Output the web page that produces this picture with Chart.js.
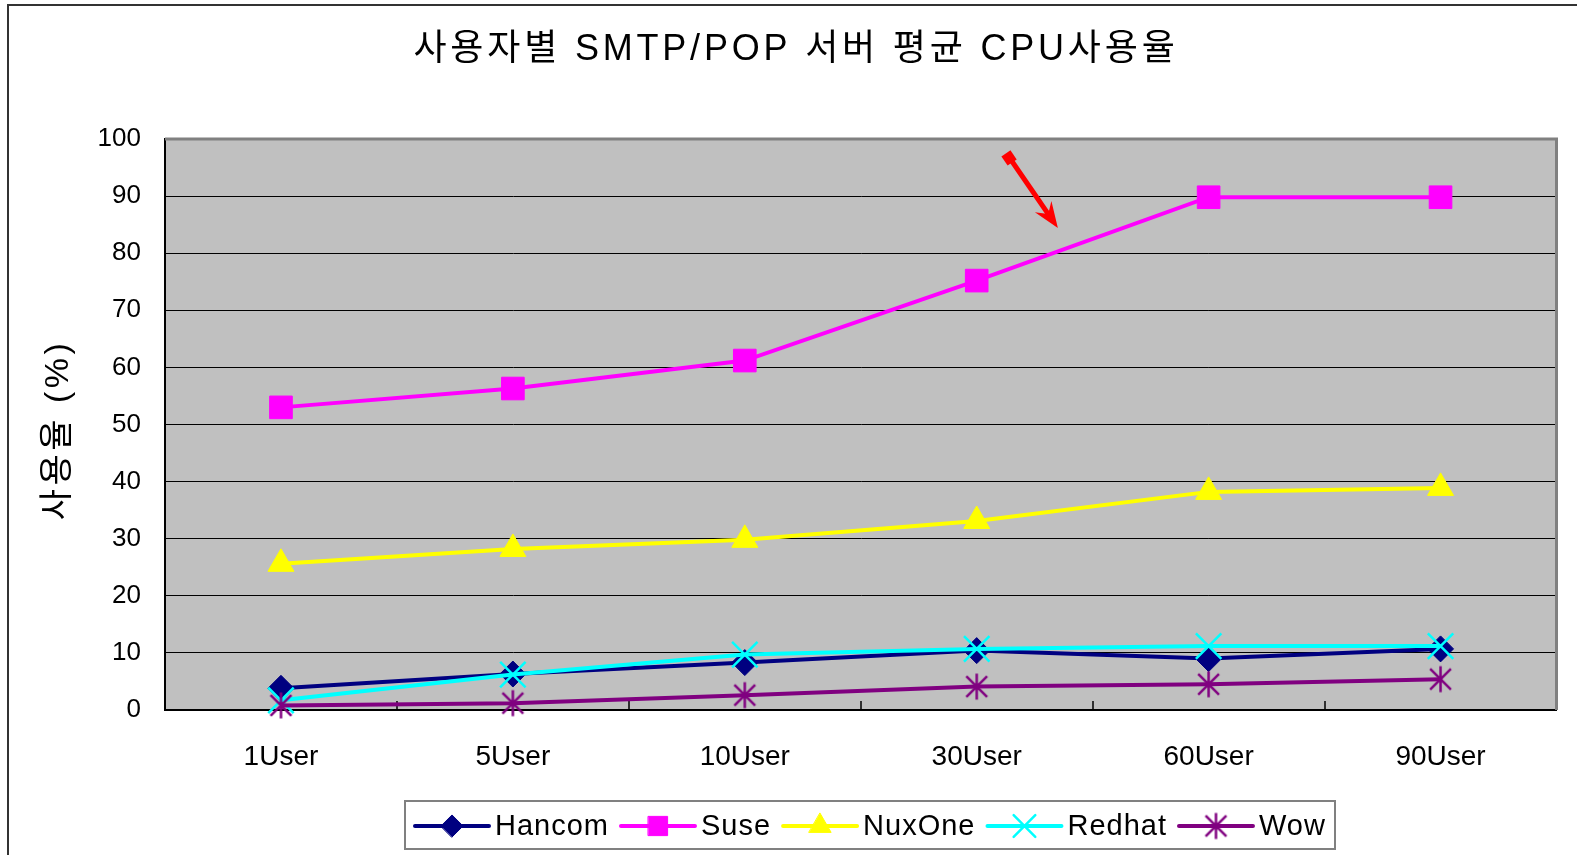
<!DOCTYPE html>
<html>
<head>
<meta charset="utf-8">
<script src="https://cdn.jsdelivr.net/npm/chart.js@4/dist/chart.umd.min.js"></script>
<style>
  html, body { margin: 0; padding: 0; background: #fff; overflow: hidden; }
</style>
</head>
<body>
<canvas id="cpuPorUsuario" width="1577" height="855"></canvas>
<script>
var categorias = ['1User', '5User', '10User', '30User', '60User', '90User'];
var hancom = [3.8, 6.3, 8.3, 10.4, 9.0, 10.7];
var suse = [53.0, 56.3, 61.2, 75.2, 89.8, 89.8];
var nuxone = [25.6, 28.2, 29.8, 33.1, 38.2, 38.9];
var redhat = [1.7, 6.2, 9.7, 10.7, 11.2, 11.2];
var wow = [0.8, 1.2, 2.6, 4.1, 4.5, 5.4];
var ticksY = [0, 10, 20, 30, 40, 50, 60, 70, 80, 90, 100];
var tituloGrafico = '사용자별 SMTP/POP 서버 평균 CPU사용율';
var tituloEixoY = '사용율 (%)';
// seta vermelha: inicio e fim em unidades de dados (indice da categoria, valor)
var setaInicio = [3.14, 96.8];
var setaFim = [3.35, 84.4];

var FONTE = "'Liberation Sans', 'Noto Sans CJK KR', sans-serif";

// asterisco do Wow: haste vertical + X
function marcadorAsterisco(cor, r, lw) {
  var c = document.createElement('canvas');
  var lado = Math.ceil(2 * r + lw + 2);
  c.width = lado;
  c.height = lado;
  var g = c.getContext('2d');
  var m = lado / 2;
  var d = r * 0.8;
  g.strokeStyle = cor;
  g.lineWidth = lw;
  g.beginPath();
  g.moveTo(m, m - r); g.lineTo(m, m + r);
  g.moveTo(m - d, m - d); g.lineTo(m + d, m + d);
  g.moveTo(m + d, m - d); g.lineTo(m - d, m + d);
  g.stroke();
  return c;
}

var series = [
  { label: 'Hancom', data: hancom, cor: '#000080', estilo: 'rectRot', raio: 13, borda: 1 },
  { label: 'Suse', data: suse, cor: '#FF00FF', estilo: 'rect', raio: 16, borda: 1 },
  { label: 'NuxOne', data: nuxone, cor: '#FFFF00', estilo: 'triangle', raio: 15, borda: 1 },
  { label: 'Redhat', data: redhat, cor: '#00FFFF', estilo: 'crossRot', raio: 18, borda: 2.5 },
  { label: 'Wow', data: wow, cor: '#800080', estilo: marcadorAsterisco('#800080', 13, 2.5), raio: 13, borda: 2.5 }
];

function desenharPonto(ctx, s, x, y) {
  ctx.save();
  ctx.fillStyle = s.cor;
  ctx.strokeStyle = s.cor;
  ctx.lineWidth = s.borda;
  Chart.helpers.drawPoint(ctx, { pointStyle: s.estilo, radius: s.raio, rotation: 0, borderWidth: s.borda }, x, y);
  ctx.restore();
}

var pluginMoldura = {
  id: 'moldura',
  beforeDraw: function (chart) {
    var ctx = chart.ctx;
    var a = chart.chartArea;
    ctx.save();
    ctx.fillStyle = '#fff';
    ctx.fillRect(0, 0, chart.width, chart.height);
    ctx.strokeStyle = '#333';
    ctx.lineWidth = 2;
    ctx.strokeRect(8, 5, chart.width + 20, chart.height + 20);
    ctx.fillStyle = '#C0C0C0';
    ctx.fillRect(a.left, a.top, a.right - a.left, a.bottom - a.top);
    ctx.restore();
  },
  beforeDatasetsDraw: function (chart) {
    var ctx = chart.ctx;
    var a = chart.chartArea;
    var x = chart.scales.x;
    ctx.save();
    ctx.strokeStyle = '#808080';
    ctx.lineWidth = 3;
    ctx.beginPath();
    ctx.moveTo(a.left, a.top);
    ctx.lineTo(a.right, a.top);
    ctx.lineTo(a.right, a.bottom);
    ctx.stroke();
    ctx.strokeStyle = '#000';
    ctx.lineWidth = 1.5;
    ctx.beginPath();
    for (var i = 1; i < categorias.length; i++) {
      var px = Math.round((x.getPixelForValue(i - 1) + x.getPixelForValue(i)) / 2);
      ctx.moveTo(px, a.bottom);
      ctx.lineTo(px, a.bottom - 9);
    }
    ctx.stroke();
    ctx.restore();
  },
  afterDraw: function (chart) {
    var ctx = chart.ctx;
    ctx.save();

    // titulo
    ctx.fillStyle = '#000';
    ctx.font = '36px ' + FONTE;
    ctx.textAlign = 'center';
    ctx.textBaseline = 'middle';
    ctx.letterSpacing = '3.8px';
    ctx.fillText(tituloGrafico, 796, 50);

    // titulo do eixo y
    ctx.save();
    ctx.translate(59, 430);
    ctx.rotate(-Math.PI / 2);
    ctx.font = '34px ' + FONTE;
    ctx.letterSpacing = '3.5px';
    ctx.fillText(tituloEixoY, 0, 0);
    ctx.restore();
    ctx.letterSpacing = '0px';

    // seta
    var x = chart.scales.x, y = chart.scales.y;
    var x0 = x.getPixelForValue(setaInicio[0]), y0 = y.getPixelForValue(setaInicio[1]);
    var x1 = x.getPixelForValue(setaFim[0]), y1 = y.getPixelForValue(setaFim[1]);
    var ang = Math.atan2(y1 - y0, x1 - x0);
    var cs = Math.cos(ang), sn = Math.sin(ang);
    ctx.strokeStyle = '#FF0000';
    ctx.fillStyle = '#FF0000';
    ctx.lineWidth = 5;
    ctx.beginPath();
    ctx.moveTo(x0, y0);
    ctx.lineTo(x1 - 16 * cs, y1 - 16 * sn);
    ctx.stroke();
    ctx.save();
    ctx.translate(x0, y0);
    ctx.rotate(ang);
    ctx.fillRect(-5, -5, 11, 11);
    ctx.restore();
    ctx.beginPath();
    ctx.moveTo(x1, y1);
    ctx.lineTo(x1 - 26 * cs + 10 * sn, y1 - 26 * sn - 10 * cs);
    ctx.lineTo(x1 - 17 * cs, y1 - 17 * sn);
    ctx.lineTo(x1 - 26 * cs - 10 * sn, y1 - 26 * sn + 10 * cs);
    ctx.closePath();
    ctx.fill();

    // legenda
    ctx.strokeStyle = '#808080';
    ctx.lineWidth = 2;
    ctx.strokeRect(405, 801, 930, 48);
    ctx.font = '29px ' + FONTE;
    ctx.letterSpacing = '1px';
    ctx.textAlign = 'left';
    ctx.textBaseline = 'middle';
    var cx = 415, cy = 826;
    series.forEach(function (s) {
      ctx.strokeStyle = s.cor;
      ctx.lineWidth = 4;
      ctx.lineCap = 'round';
      ctx.beginPath();
      ctx.moveTo(cx, cy);
      ctx.lineTo(cx + 74, cy);
      ctx.stroke();
      var leg = Object.assign({}, s, { raio: s.raio * 0.85 });
      desenharPonto(ctx, leg, cx + 37, cy);
      ctx.fillStyle = '#000';
      ctx.fillText(s.label, cx + 80, cy + 1);
      cx += 80 + ctx.measureText(s.label).width + 12;
    });

    ctx.restore();
  }
};

var grafico = new Chart(document.getElementById('cpuPorUsuario'), {
  type: 'line',
  data: {
    labels: categorias,
    datasets: series.map(function (s, i) {
      return {
        label: s.label,
        data: s.data,
        borderColor: s.cor,
        backgroundColor: s.cor,
        borderWidth: 4,
        pointStyle: s.estilo,
        pointRadius: s.raio,
        pointBorderWidth: s.borda,
        pointBackgroundColor: s.cor,
        pointBorderColor: s.cor,
        tension: 0,
        clip: false,
        order: series.length - i
      };
    })
  },
  options: {
    responsive: false,
    animation: false,
    events: [],
    layout: { padding: { top: 139, right: 18, left: 0, bottom: 0 } },
    plugins: {
      legend: { display: false },
      title: { display: false },
      tooltip: { enabled: false }
    },
    scales: {
      x: {
        type: 'category',
        offset: true,
        grid: { display: false, drawTicks: false },
        border: { color: '#000', width: 2 },
        ticks: { color: '#000', font: { family: FONTE, size: 28 }, padding: 30 },
        afterFit: function (s) { s.height = 145; }
      },
      y: {
        min: 0,
        max: 100,
        afterBuildTicks: function (s) { s.ticks = ticksY.map(function (v) { return { value: v }; }); },
        grid: { color: '#000', lineWidth: 1, drawTicks: false },
        border: { color: '#000', width: 2 },
        ticks: { color: '#000', font: { family: FONTE, size: 26 }, padding: 24 },
        afterFit: function (s) { s.width = 165; }
      }
    }
  },
  plugins: [pluginMoldura]
});
</script>
</body>
</html>
